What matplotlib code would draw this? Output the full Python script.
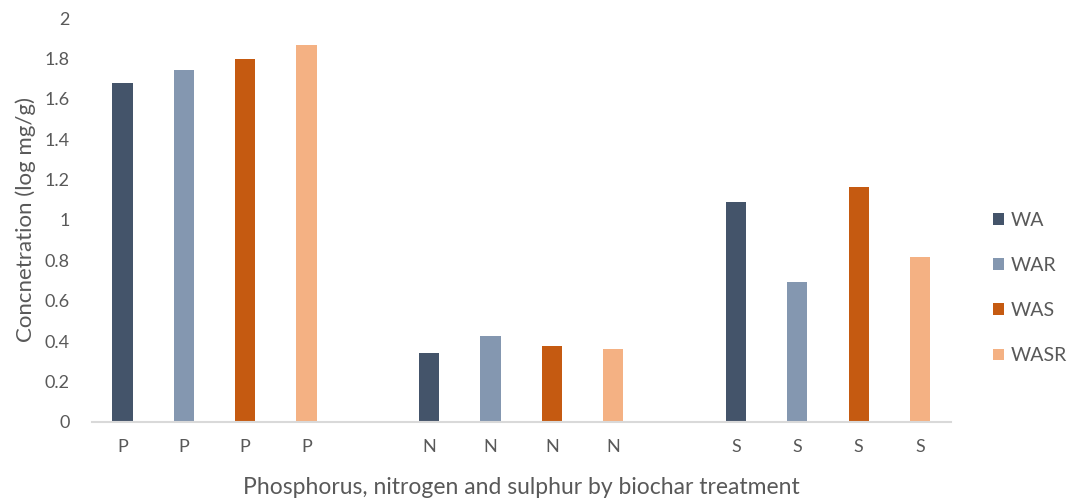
import numpy as np
import matplotlib.pyplot as plt

# --- data ---
elements = ["P", "N", "S"]
treatments = ["WA", "WAR", "WAS", "WASR"]
wa = [1.68, 0.34, 1.09]
war = [1.745, 0.425, 0.695]
was = [1.795, 0.375, 1.165]
wasr = [1.865, 0.36, 0.815]
colors = ["#44546A", "#8497B0", "#C55A11", "#F4B183"]

plt.rcParams['font.family'] = ['Lato', 'DejaVu Sans']
grey = "#595959"

fig = plt.figure(figsize=(10.67, 5.01), dpi=100)
ax = fig.add_axes([0.086, 0.158, 0.805, 0.806])

series = [wa, war, was, wasr]
xticks, xlabels = [], []
for gi, el in enumerate(elements):
    for si, vals in enumerate(series):
        x = gi * 5 + si
        ax.bar(x, vals[gi], width=0.33, color=colors[si],
               label=treatments[si] if gi == 0 else None)
        xticks.append(x)
        xlabels.append(el)

ax.set_xlim(-0.5, 13.5)
ax.set_ylim(0, 2)
ax.set_yticks(np.arange(0, 2.01, 0.2))
ax.set_yticklabels(["0", "0.2", "0.4", "0.6", "0.8", "1", "1.2", "1.4", "1.6", "1.8", "2"])
ax.set_xticks(xticks)
ax.set_xticklabels(xlabels)
ax.tick_params(axis='both', length=0, labelsize=13, colors=grey)
ax.tick_params(axis='x', pad=12)
ax.tick_params(axis='y', pad=16)

for s in ["top", "right", "left"]:
    ax.spines[s].set_visible(False)
ax.spines["bottom"].set_color("#D9D9D9")
ax.spines["bottom"].set_linewidth(1.5)

ax.set_ylabel("Concnetration (log mg/g)", fontsize=16, color=grey, labelpad=6)
ax.set_xlabel("Phosphorus, nitrogen and sulphur by biochar treatment",
              fontsize=16.5, color=grey, labelpad=16)

fig.legend(loc="center left", bbox_to_anchor=(0.922, 0.425), frameon=False,
           fontsize=14, labelcolor=grey, handlelength=0.55, handleheight=0.55,
           handletextpad=0.35, labelspacing=1.45, borderpad=0)

fig.savefig("out.png", dpi=100)
